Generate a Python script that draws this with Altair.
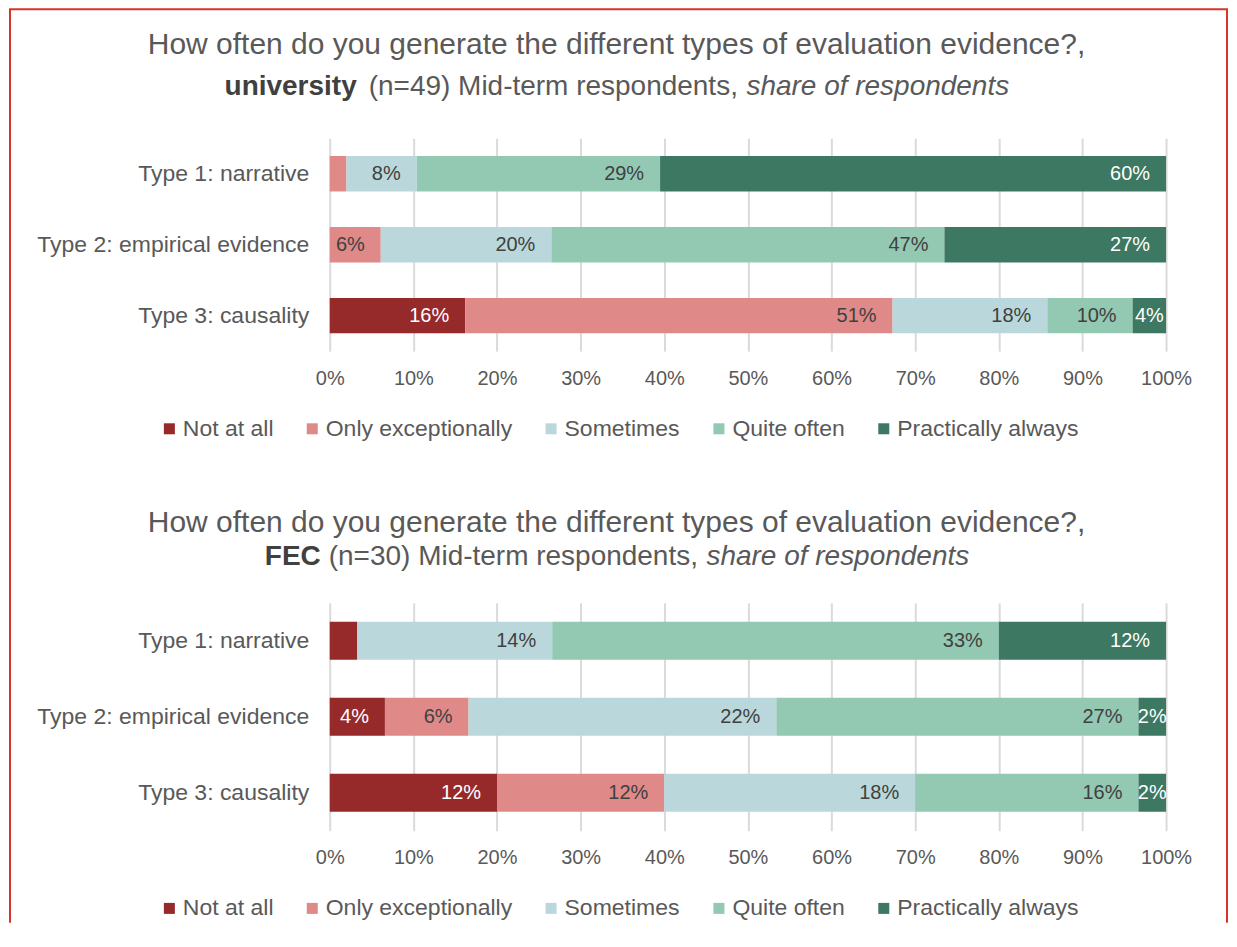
import altair as alt
import pandas as pd

FONT = "Liberation Sans"
GRAY = "#595959"
DARK = "#404040"
RED = "#D8352A"

categories = ["Not at all", "Only exceptionally", "Sometimes", "Quite often", "Practically always"]
colors = ["#962A2B", "#DF8A88", "#BAD8DB", "#93C9B3", "#3C7862"]
types = ["Type 1: narrative", "Type 2: empirical evidence", "Type 3: causality"]
tick_values = [0, 10, 20, 30, 40, 50, 60, 70, 80, 90, 100]

title_line1 = "How often do you generate the different types of evaluation evidence?,"

# university panel: bar shares (per category, in order of types) and printed labels
uni_not_at_all = [0.0, 0.0, 16.2]
uni_only_exc = [2.0, 6.1, 51.1]
uni_sometimes = [8.4, 20.4, 18.5]
uni_quite_often = [29.1, 47.0, 10.2]
uni_practically = [60.5, 26.5, 4.0]
uni_lbl_not_at_all = ["", "", "16%"]
uni_lbl_only_exc = ["", "6%", "51%"]
uni_lbl_sometimes = ["8%", "20%", "18%"]
uni_lbl_quite_often = ["29%", "47%", "10%"]
uni_lbl_practically = ["60%", "27%", "4%"]

# FEC panel
fec_not_at_all = [3.3, 6.6, 20.0]
fec_only_exc = [0.0, 10.0, 20.0]
fec_sometimes = [23.3, 36.8, 30.0]
fec_quite_often = [53.4, 43.3, 26.7]
fec_practically = [20.0, 3.3, 3.3]
fec_lbl_not_at_all = ["", "4%", "12%"]
fec_lbl_only_exc = ["", "6%", "12%"]
fec_lbl_sometimes = ["14%", "22%", "18%"]
fec_lbl_quite_often = ["33%", "27%", "16%"]
fec_lbl_practically = ["12%", "2%", "2%"]


def make_df(shares, labels):
    rows = []
    for ci, cat in enumerate(categories):
        for ti, t in enumerate(types):
            rows.append({"type": t, "category": cat, "order": ci,
                         "share": shares[ci][ti], "label": labels[ci][ti]})
    return pd.DataFrame(rows)


uni_df = make_df([uni_not_at_all, uni_only_exc, uni_sometimes, uni_quite_often, uni_practically],
                 [uni_lbl_not_at_all, uni_lbl_only_exc, uni_lbl_sometimes, uni_lbl_quite_often, uni_lbl_practically])
fec_df = make_df([fec_not_at_all, fec_only_exc, fec_sometimes, fec_quite_often, fec_practically],
                 [fec_lbl_not_at_all, fec_lbl_only_exc, fec_lbl_sometimes, fec_lbl_quite_often, fec_lbl_practically])

one = pd.DataFrame({"k": [0]})

xaxis = alt.Axis(values=tick_values, labelExpr="datum.value + '%'", domain=False, title=None,
                 ticks=False, grid=True, gridColor="#DADADA", gridWidth=2, labelFlush=False,
                 labelFontSize=20, labelColor=GRAY, labelFont=FONT, labelPadding=17)
yaxis = alt.Axis(domain=False, ticks=False, labelFontSize=23, labelColor=GRAY, title=None,
                 labelPadding=21, labelFont=FONT, grid=False, labelLimit=400)
xscale = alt.Scale(domain=[0, 100], nice=False)
yscale = alt.Scale(paddingInner=0.5, paddingOuter=0.25)


def panel(df, height, legend_y, l1_y, l2_y, bold_txt, bold_right, reg_txt, reg_left,
          ital_txt, ital_left, frame=False):
    base = alt.Chart(df).transform_filter("datum.share > 0").transform_stack(
        stack="share", groupby=["type"], as_=["x0", "x1"],
        sort=[alt.SortField("order", order="ascending")])
    yenc = alt.Y("type:N", sort=types, title=None, scale=yscale, axis=yaxis)
    bars = base.mark_bar().encode(
        x=alt.X("x0:Q", scale=xscale, title=None, axis=xaxis),
        x2="x1:Q",
        y=yenc,
        color=alt.Color("category:N", scale=alt.Scale(domain=categories, range=colors),
                        legend=alt.Legend(orient="none", legendX=-172, legendY=legend_y,
                                          direction="horizontal", title=None, symbolType="square",
                                          symbolSize=121, symbolStrokeWidth=0, labelFontSize=23,
                                          labelColor=GRAY, labelFont=FONT, labelOffset=2,
                                          columnPadding=27, labelLimit=400, padding=0)),
    )
    tcolor = alt.condition("datum.category == 'Not at all' || datum.category == 'Practically always'",
                           alt.value("white"), alt.value(DARK))
    end_lbl = base.transform_filter("datum.label != '' && datum.share >= 5").mark_text(
        align="right", baseline="middle", dx=-16, fontSize=20, font=FONT).encode(
        x=alt.X("x1:Q", scale=xscale, title=None, axis=xaxis), y=yenc,
        text="label:N", color=tcolor)
    mid_lbl = base.transform_filter("datum.label != '' && datum.share < 5").transform_calculate(
        mid="(datum.x0 + datum.x1) / 2").mark_text(
        align="center", baseline="middle", fontSize=20, font=FONT).encode(
        x=alt.X("mid:Q", scale=xscale, title=None, axis=xaxis), y=yenc,
        text="label:N", color=tcolor)

    t1 = alt.Chart(one).mark_text(text=title_line1, align="center", baseline="middle", fontSize=30,
                                  color=GRAY, font=FONT).encode(x=alt.value(287), y=alt.value(l1_y))
    t2a = alt.Chart(one).mark_text(text=bold_txt, align="right", baseline="middle", fontSize=28,
                                   fontWeight="bold", color=DARK, font=FONT).encode(
        x=alt.value(bold_right), y=alt.value(l2_y))
    t2b = alt.Chart(one).mark_text(text=reg_txt, align="left", baseline="middle", fontSize=28,
                                   color=GRAY, font=FONT).encode(x=alt.value(reg_left), y=alt.value(l2_y))
    t2c = alt.Chart(one).mark_text(text=ital_txt, align="left", baseline="middle", fontSize=28,
                                   fontStyle="italic", color=GRAY, font=FONT).encode(
        x=alt.value(ital_left), y=alt.value(l2_y))
    layers = [bars, end_lbl, mid_lbl, t1, t2a, t2b, t2c]
    if frame:
        fl = alt.Chart(one).mark_rule(color=RED, strokeWidth=2).encode(
            x=alt.value(-320), y=alt.value(-129), y2=alt.value(785))
        fr = alt.Chart(one).mark_rule(color=RED, strokeWidth=2).encode(
            x=alt.value(898), y=alt.value(-129), y2=alt.value(785))
        ft = alt.Chart(one).mark_rule(color=RED, strokeWidth=2).encode(
            x=alt.value(-321), x2=alt.value(899), y=alt.value(-129))
        layers += [fl, fr, ft]
    return alt.layer(*layers).properties(width=837, height=height)


p1 = panel(uni_df, 213, 279, -93, -51, "university", 27,
           "(n=49) Mid-term respondents,", 39, "share of respondents", 417, frame=True)
p2 = panel(fec_df, 228, 294, -80, -46, "FEC", -9,
           "(n=30) Mid-term respondents,", -1, "share of respondents", 377)

chart = alt.vconcat(p1, p2, spacing=252, bounds="flush").resolve_scale(
    color="independent").resolve_legend(color="independent").properties(
    padding=0, background="white").configure(font=FONT, padding=0).configure_view(stroke=None)

chart.save("out.html", embed_options={"renderer": "svg", "actions": False})
